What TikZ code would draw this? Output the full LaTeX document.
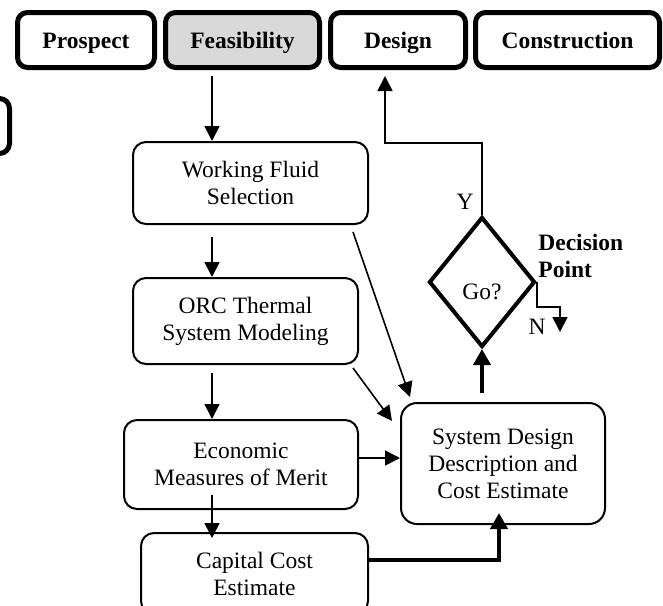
\documentclass[tikz,border=0pt]{standalone}
\usepackage{fontspec}
\setmainfont{Liberation Serif}
\usepackage{tikz}
\usetikzlibrary{arrows.meta,shapes.geometric}

\begin{document}
\begin{tikzpicture}[x=0.5pt,y=-0.5pt,>={Triangle[length=7.5pt,width=7.5pt]},
      font=\fontsize{11.75}{13.5}\selectfont,
      phase/.style={rectangle,draw,line width=2.5pt,rounded corners=5pt,minimum height=27.5pt,
        inner sep=0pt,text height=8pt,text depth=0pt,font=\fontsize{11.75}{13.5}\selectfont\bfseries},
      task/.style={rectangle,draw,line width=1pt,rounded corners=6.5pt,inner sep=0pt,align=center},
      flow/.style={->,line width=0.8pt},
      heavy flow/.style={-{Triangle[length=8pt,width=8.5pt]},line width=2pt}]

    \clip (0,0) rectangle (663,605);

    % project phases
    \node[phase,minimum width=68.5pt] (prospect) at (86,40) {Prospect};
    \node[phase,minimum width=77pt,fill=gray!30] (feas) at (242.5,40) {Feasibility};
    \node[phase,minimum width=67.5pt] (design) at (398,40) {Design};
    \node[phase,minimum width=92pt] (constr) at (567.5,40) {Construction};
    \node[phase,minimum width=69.5pt,minimum height=27.5pt] (stub) at (-60,126) {};

    % feasibility tasks
    \node[task,minimum width=117.5pt,minimum height=41pt] (fluid) at (250.5,183) {Working Fluid\\Selection};
    \node[task,minimum width=112.5pt,minimum height=43pt] (orc) at (245.5,321) {ORC Thermal\\System Modeling};
    \node[task,minimum width=117pt,minimum height=44.5pt] (econ) at (241,464.5) {Economic\\Measures of Merit};
    \node[task,minimum width=113.5pt,minimum height=40.5pt] (capital) at (254.5,573.5) {Capital Cost\\Estimate};
    \node[task,minimum width=102pt,minimum height=60.5pt,rounded corners=8pt] (sysdesc) at (503,463.5)
      {System Design\\Description and\\Cost Estimate};
    \node[diamond,draw,line width=2pt,minimum width=53pt,minimum height=65pt,inner sep=0pt,
      label={[yshift=-5pt]center:Go?}] (go) at (482,282) {};

    \node (ylabel) at (465,202) {Y};
    \node (nlabel) at (537,327) {N};
    \node[anchor=west,align=left,inner sep=0pt,font=\fontsize{11.75}{13.5}\selectfont\bfseries]
      (decision) at (538,256) {Decision\\Point};

    \coordinate (spine) at (212,0);
    \coordinate (turn) at (385,143);
    \coordinate (nout) at (560,332);

    \draw[flow,shorten <=3pt] (feas.south -| spine) -- (fluid.north -| spine);
    \draw[flow,shorten <=6pt] (fluid.south -| spine) -- (orc.north -| spine);
    \draw[flow,shorten <=4pt] (orc.south -| spine) -- (econ.north -| spine);
    \draw[flow,shorten <=-7.5pt,shorten >=-3pt] (econ.south -| spine) -- (capital.north -| spine);

    \draw[flow] ([shift={(-16,7)}]fluid.south east) -- ([shift={(10,-5)}]sysdesc.north west);
    \draw[flow] ([shift={(-6,3)}]orc.south east) -- ([shift={(-8,19)}]sysdesc.north west);
    \draw[flow] ([yshift=3.25pt]econ.east) -- ([yshift=3.25pt]econ.east -| sysdesc.west);
    \draw[heavy flow,shorten >=-6pt] ([yshift=6.75pt]capital.east) -| ([xshift=-2pt]sysdesc.south);

    \draw[heavy flow,shorten <=4.5pt] (sysdesc.north -| go.south) -- (go.south);
    \draw[flow,shorten >=3pt] (go.north) |- (turn) -- (design.south -| turn);
    \draw[flow] (go.east) -- ++(0,25) -| (nout);
\end{tikzpicture}
\end{document}
